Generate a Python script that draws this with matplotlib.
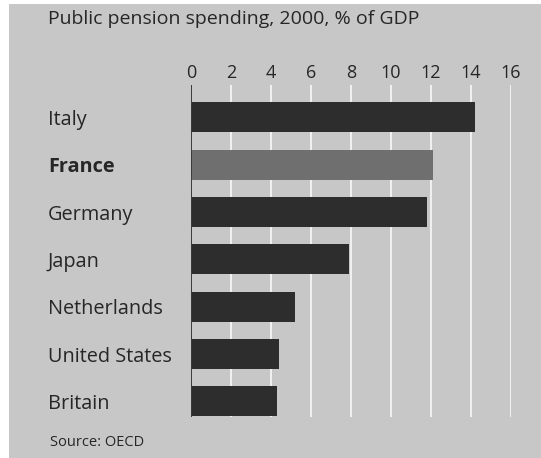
import matplotlib
matplotlib.use("Agg")
import matplotlib.pyplot as plt
import matplotlib.transforms as mtransforms
from matplotlib.patches import Rectangle

# Public pension spending, 2000, % of GDP (OECD)
countries = ["Italy", "France", "Germany", "Japan", "Netherlands", "United States", "Britain"]
spending = [14.2, 12.1, 11.8, 7.9, 5.2, 4.4, 4.3]
highlight = "France"
ticks = [0, 2, 4, 6, 8, 10, 12, 14, 16]

BG = "#c7c7c7"
DARK = "#2d2d2d"
MID = "#6f6f6f"
TEXT = "#262626"

plt.rcParams["font.family"] = ["Open Sans", "DejaVu Sans"]

W, H = 541, 458
fig = plt.figure(figsize=(W / 100, H / 100), dpi=100, facecolor="white")

# grey printed panel, behind everything
fig.patches.append(Rectangle((9 / W, 0 / H), 1 - 9 / W, 1 - 4 / H,
                             transform=fig.transFigure, facecolor=BG,
                             edgecolor="none", zorder=-10))

# axes: x 0..16 spans px 191..511, plot area px y 85..417 from top
left, right = 191 / W, 511 / W
top, bottom = 1 - 85 / H, 1 - 417 / H
ax = fig.add_axes([left, bottom, right - left, top - bottom])
ax.set_facecolor("none")
ax.set_xlim(0, 16)
ax.set_ylim(6.33, -0.683)

for t in ticks[1:]:
    ax.axvline(t, color="#f2f2f2", lw=1.4, zorder=1)
ax.axvline(0, color="#3a3a3a", lw=1.4, zorder=3)

colors = [MID if c == highlight else DARK for c in countries]
ax.barh(range(len(countries)), spending, height=0.634, color=colors,
        edgecolor="none", zorder=2)

for s in ax.spines.values():
    s.set_visible(False)
ax.set_yticks([])
ax.xaxis.tick_top()
ax.set_xticks(ticks)
ax.set_xticklabels([str(t) for t in ticks], fontsize=13, color=TEXT)
ax.tick_params(axis="x", length=0, pad=2)

# country names, left aligned at a fixed figure x
trans = mtransforms.blended_transform_factory(fig.transFigure, ax.transData)
for i, c in enumerate(countries):
    ax.text(48 / W, i, c, transform=trans, ha="left", va="center_baseline",
            fontsize=14.3, color=TEXT,
            fontweight="bold" if c == highlight else "normal")

fig.text(48 / W, 1 - 19 / H, "Public pension spending, 2000, % of GDP",
         ha="left", va="center", fontsize=14, color=TEXT)
fig.text(50 / W, 1 - 443 / H, "Source: OECD", ha="left", va="center",
         fontsize=10.5, color=TEXT)

fig.savefig("out.png", dpi=100, facecolor="white")
